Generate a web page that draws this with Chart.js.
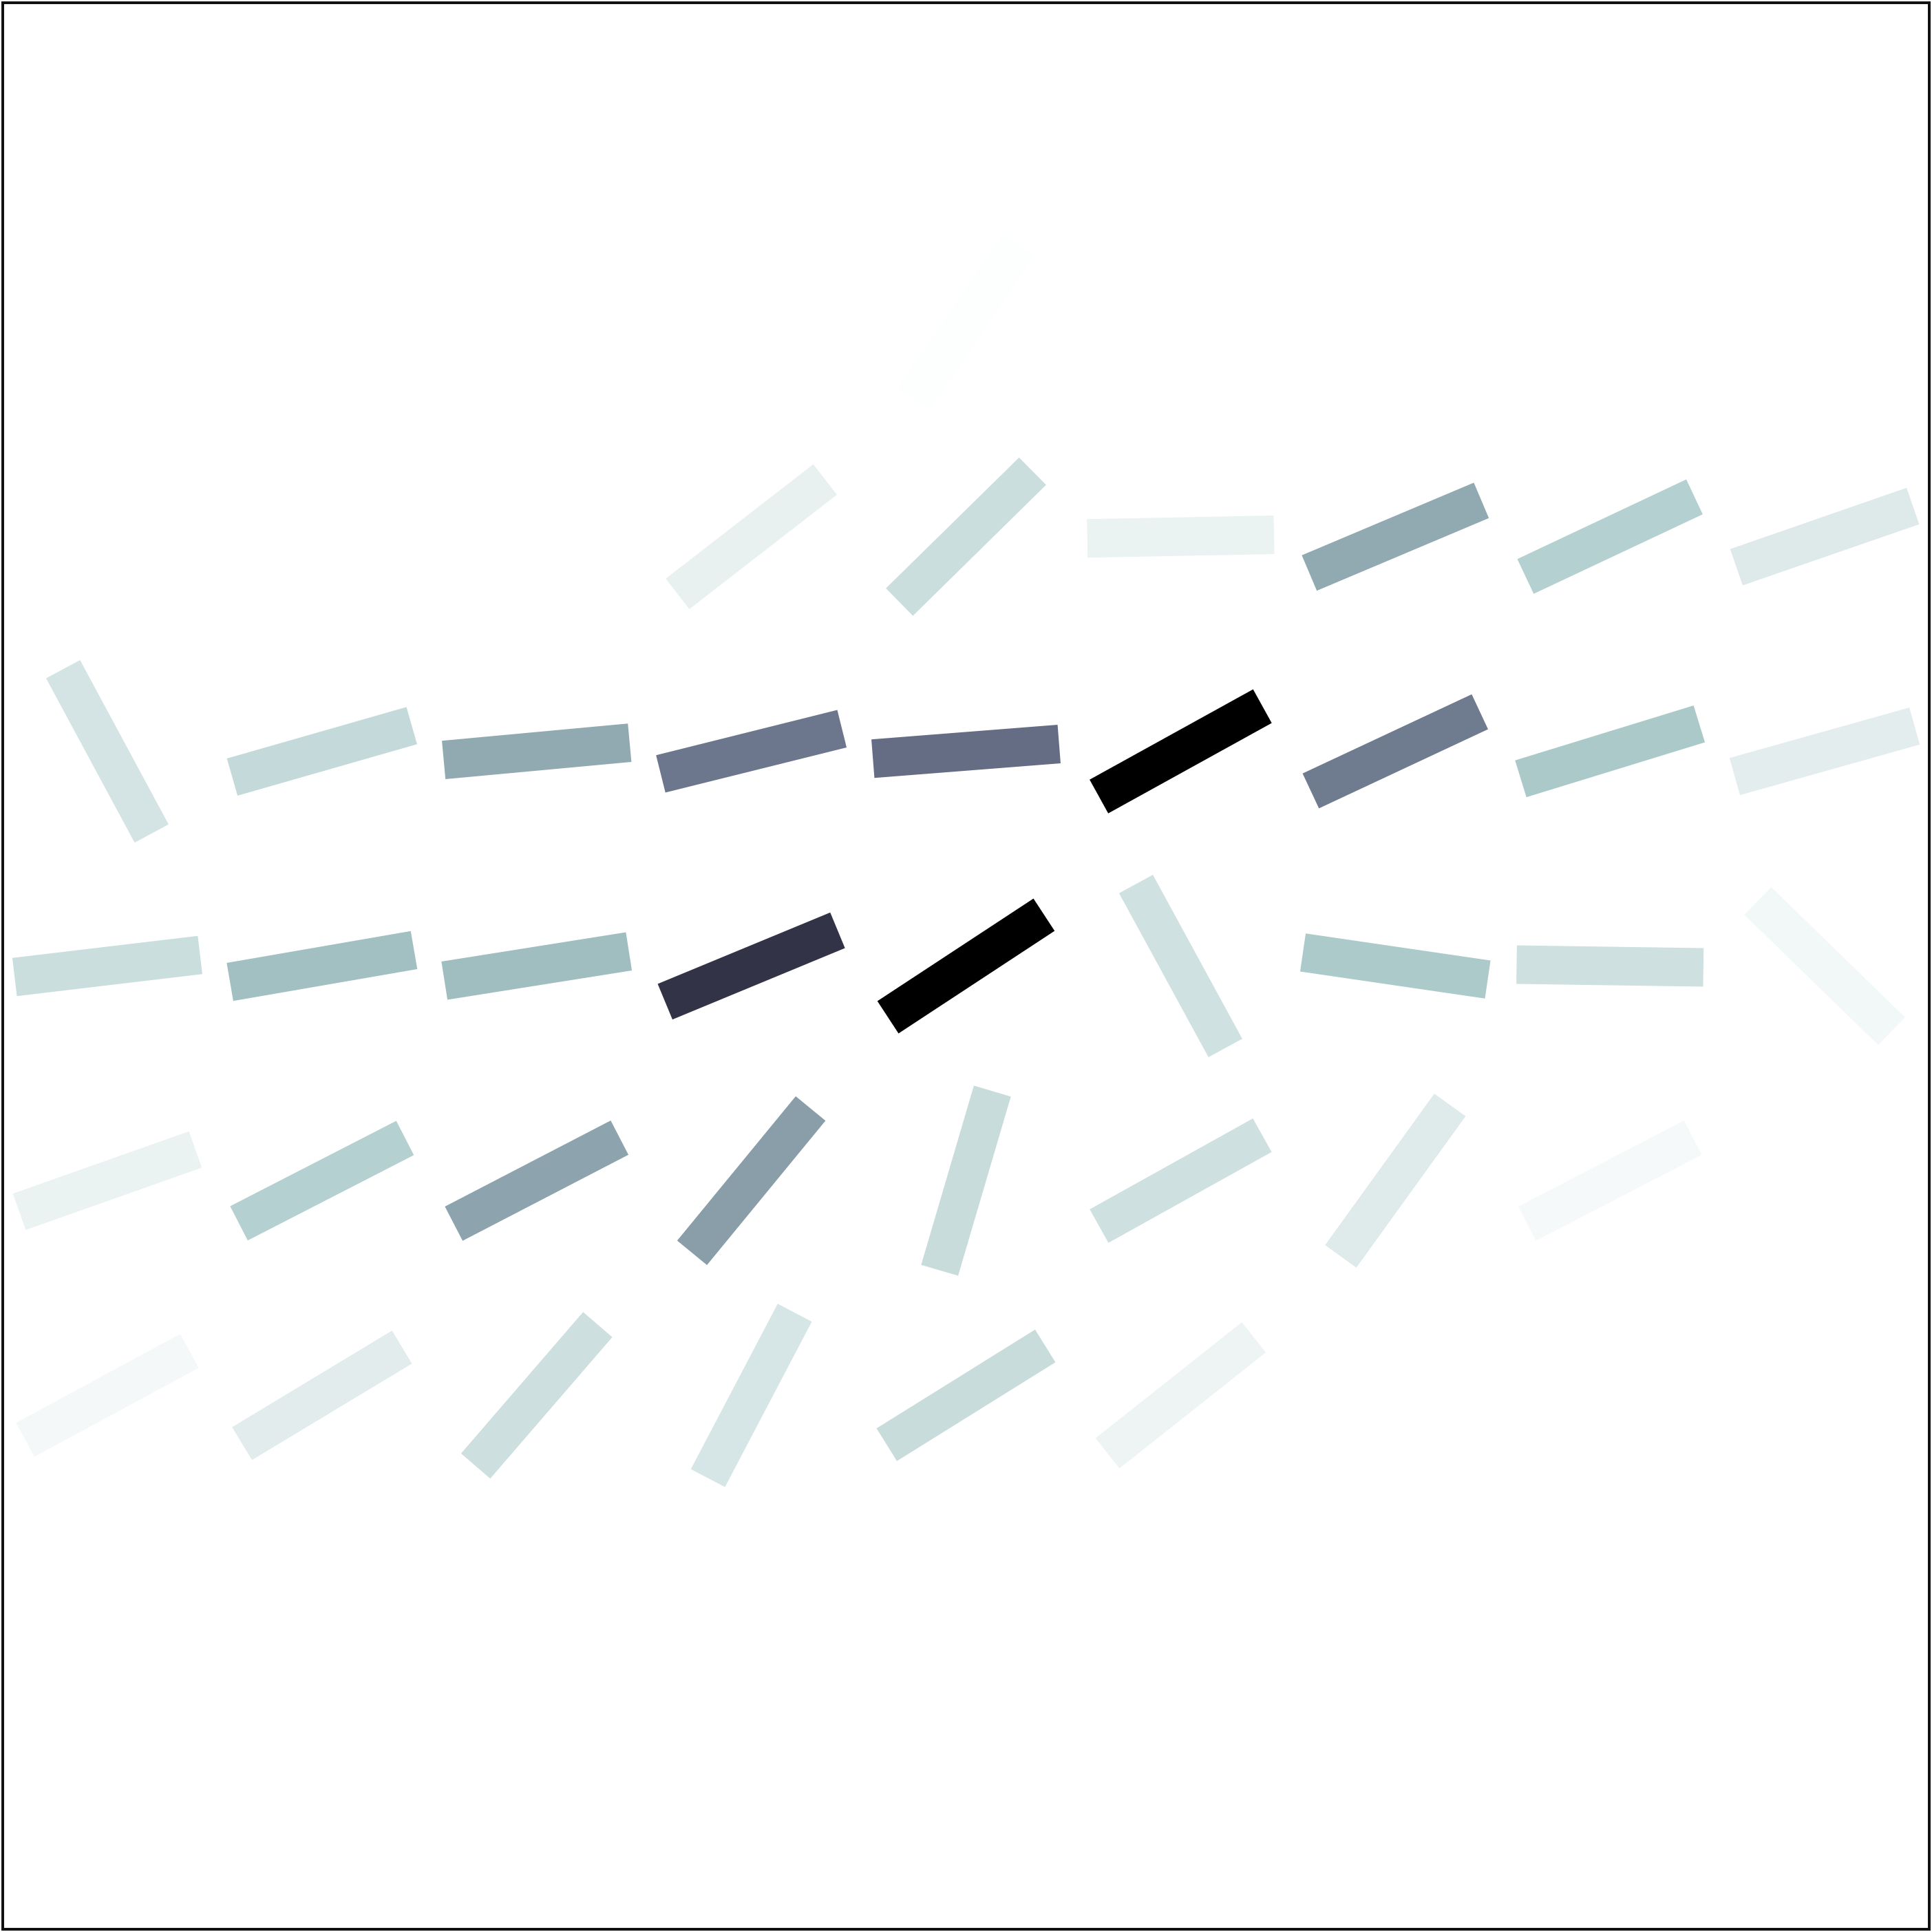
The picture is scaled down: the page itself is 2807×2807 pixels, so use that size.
<!DOCTYPE html>
<html>
<head>
<meta charset="utf-8">
<script src="https://cdn.jsdelivr.net/npm/chart.js@4.4.1/dist/chart.umd.min.js"></script>
<style>
  html, body { margin: 0; padding: 0; background: #fff; }
  #wrap { position: relative; width: 2807px; height: 2807px; }
  #c { position: absolute; left: 0; top: 0; }
  #frame {
    position: absolute; left: 2px; top: 2px;
    width: 2803px; height: 2803px; box-sizing: border-box;
    border: 4px solid #111; pointer-events: none;
  }
</style>
</head>
<body>
<div id="wrap">
  <canvas id="c" width="2807" height="2807"></canvas>
  <div id="frame"></div>
</div>
<script>
// grid positions
const colX = [0.5, 1.5, 2.5, 3.5, 4.5, 5.5, 6.5, 7.5, 8.5];
const rowY = [7.5, 6.5, 5.5, 4.5, 3.5, 2.5];

// direction of each segment (degrees), null = no segment
const angleDeg = [
    [null, null, null, null, 55.9, null, null, null, null],
    [null, null, null, 37.8, 44.5, 1.1, 22.9, 25.2, 19.1],
    [-61.7, 16.0, 5.3, 14.0, 4.5, 28.9, 25.1, 17.1, 15.7],
    [6.8, 9.8, 9.0, 22.5, 33.3, -61.4, -8.3, -0.8, -44.2],
    [19.5, 27.2, 27.4, 50.6, 73.6, 29.1, 54.2, 27.4, null],
    [28.4, 31.1, 49.2, 62.3, 31.9, 38.4, null, null, null]
];

// magnitude (drives the colour)
const strength = [
    [null, null, null, null, 0.006, null, null, null, null],
    [null, null, null, 0.066, 0.149, 0.060, 0.350, 0.212, 0.094],
    [0.124, 0.169, 0.350, 0.515, 0.546, 1.0, 0.501, 0.241, 0.080],
    [0.149, 0.273, 0.282, 0.771, 1.0, 0.135, 0.236, 0.138, 0.037],
    [0.057, 0.212, 0.368, 0.385, 0.155, 0.138, 0.092, 0.026, null],
    [0.032, 0.083, 0.143, 0.118, 0.155, 0.049, null, null, null]
];

const segLen = 0.87;

// matplotlib "bone_r"
function boneR(v) {
    const t = 1 - Math.max(0, Math.min(1, v));
    let r, g, b;
    r = t < 0.746032 ? 0.652778 * t / 0.746032 : 0.652778 + (t - 0.746032) * (1 - 0.652778) / (1 - 0.746032);
    if (t < 0.365079) g = 0.319444 * t / 0.365079;
    else if (t < 0.746032) g = 0.319444 + (t - 0.365079) * (0.777778 - 0.319444) / (0.746032 - 0.365079);
    else g = 0.777778 + (t - 0.746032) * (1 - 0.777778) / (1 - 0.746032);
    b = t < 0.365079 ? 0.444444 * t / 0.365079 : 0.444444 + (t - 0.365079) * (1 - 0.444444) / (1 - 0.365079);
    return `rgb(${Math.round(r * 255)},${Math.round(g * 255)},${Math.round(b * 255)})`;
}

const datasets = [];
rowY.forEach((y, r) => {
    colX.forEach((x, c) => {
        const a = angleDeg[r][c];
        if (a === null) return;
        const rad = a * Math.PI / 180;
        const dx = Math.cos(rad) * segLen / 2;
        const dy = Math.sin(rad) * segLen / 2;
        datasets.push({
            data: [{ x: x - dx, y: y - dy }, { x: x + dx, y: y + dy }],
            showLine: true,
            borderColor: boneR(strength[r][c]),
            borderWidth: 56,
            borderCapStyle: "butt",
            pointRadius: 0,
            clip: false
        });
    });
});

new Chart(document.getElementById("c").getContext("2d"), {
    type: "scatter",
    data: { datasets },
    options: {
        responsive: false,
        devicePixelRatio: 1,
        animation: false,
        layout: { padding: 0 },
        plugins: { legend: { display: false }, tooltip: { enabled: false } },
        scales: {
            x: { type: "linear", min: 0, max: 9, display: false },
            y: { type: "linear", min: 0, max: 9, display: false }
        }
    }
});
</script>
</body>
</html>
